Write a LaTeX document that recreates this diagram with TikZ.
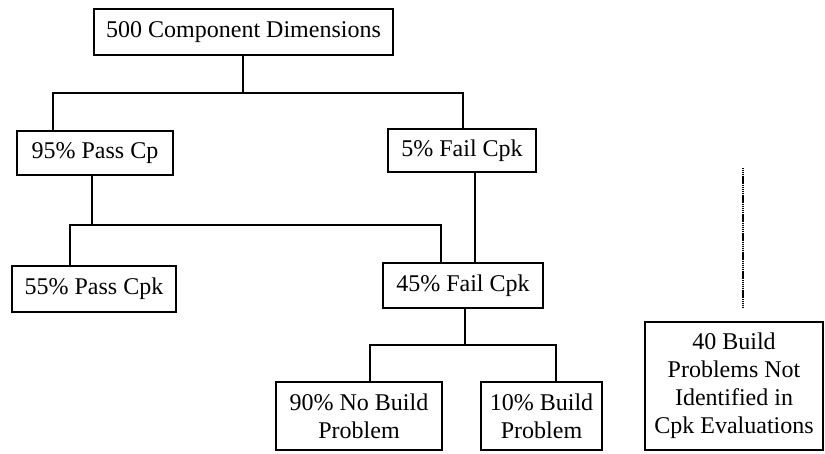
\documentclass[tikz,border=0pt]{standalone}
\usepackage{fontspec}
\setmainfont{Liberation Serif}

\tikzset{
	cbox/.style={draw,line width=1.3pt,inner sep=0,align=center,font=\fontsize{24}{28}\selectfont},
	conn/.style={line width=1.1pt},
	dotline/.style={line width=2pt,dash pattern=on 1.3pt off 0.6pt}
}

\begin{document}
\begin{tikzpicture}[x=1pt,y=-1pt]
			%\draw[help lines,xstep=50,ystep=50] (0,0) grid (825,454);
			\useasboundingbox (0,0) rectangle (825,454);
			\node[cbox,minimum width=299pt,minimum height=46pt] (dims) at (243.5,32) {500 Component Dimensions};
			\node[cbox,minimum width=156pt,minimum height=44pt] (pass95) at (95,153) {95\% Pass Cp};
			\node[cbox,minimum width=148pt,minimum height=43pt] (fail5) at (462,150.5) {5\% Fail Cpk};
			\node[cbox,minimum width=164pt,minimum height=46pt] (pass55) at (94,289) {55\% Pass Cpk};
			\node[cbox,minimum width=160pt,minimum height=45pt] (fail45) at (463,285.5) {45\% Fail Cpk};
			\node[cbox,minimum width=166pt,minimum height=68pt] (nobuild) at (359,416) {90\% No Build\\Problem};
			\node[cbox,minimum width=121pt,minimum height=68pt] (build) at (541.5,416) {10\% Build\\Problem};
			\node[cbox,minimum width=178pt,minimum height=128pt] (missed) at (734,386) {40 Build\\Problems Not\\Identified in\\Cpk Evaluations};
			% branch points
			\coordinate (s1) at (243,93);
			\coordinate (s1l) at (53,93);
			\coordinate (s1r) at (463,93);
			\coordinate (s2) at (92,225);
			\coordinate (s2l) at (70,225);
			\coordinate (s2r) at (441,225);
			\coordinate (v1) at (475,200);
			\coordinate (s3) at (465,345);
			\coordinate (s3l) at (370,345);
			\coordinate (s3r) at (556,345);
			\coordinate (dtop) at (743,168);
			\coordinate (dbot) at (743,308);
			\draw[conn] (dims.south -| s1) -- (s1);
			\draw[conn] (pass95.north -| s1l) -- (s1l) -- (s1r) -- (fail5.north -| s1r);
			\draw[conn] (pass95.south -| s2) -- (s2);
			\draw[conn] (pass55.north -| s2l) -- (s2l) -- (s2r) -- (fail45.north -| s2r);
			\draw[conn] (fail5.south -| v1) -- (fail45.north -| v1);
			\draw[conn] (fail45.south -| s3) -- (s3);
			\draw[conn] (nobuild.north -| s3l) -- (s3l) -- (s3r) -- (build.north -| s3r);
			\draw[dotline] (dtop) -- (dbot);
		\end{tikzpicture}
\end{document}
